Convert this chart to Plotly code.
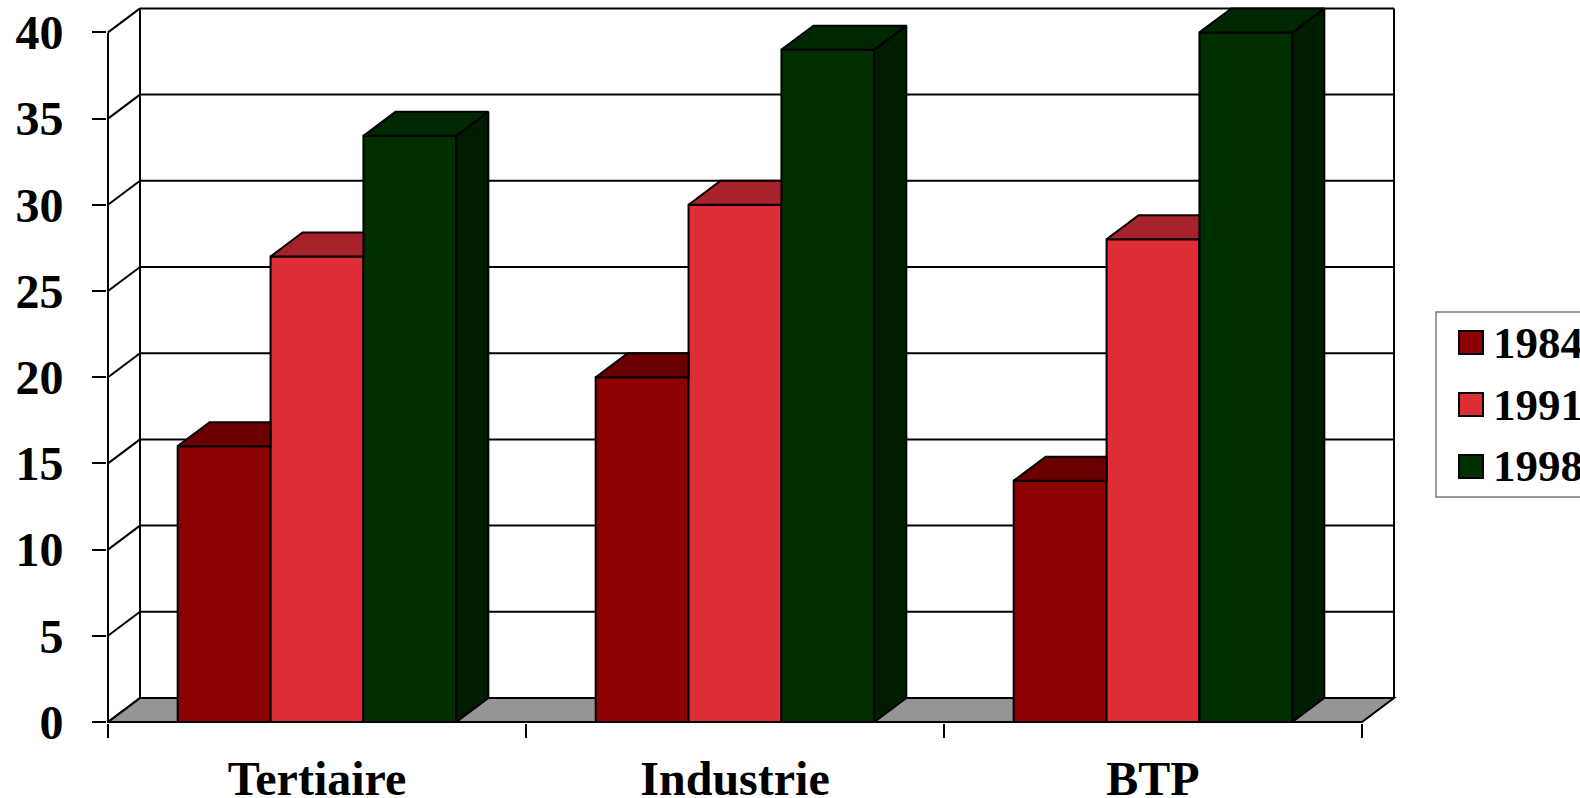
import plotly.graph_objects as go

# ---------------- data ----------------
CATEGORIES = ["Tertiaire", "Industrie", "BTP"]
SERIES = ["1984", "1991", "1998"]
V1984 = [16, 20, 14]
V1991 = [27, 30, 28]
V1998 = [34, 39, 40]
VALUES = [V1984, V1991, V1998]
Y_TICKS = [0, 5, 10, 15, 20, 25, 30, 35, 40]

# ---------------- styles ----------------
FRONT = ["#8f0000", "#de2d35", "#003000"]
TOP = ["#6b0000", "#a8222a", "#002800"]
SIDE = ["#560000", "#8a1a20", "#001d00"]
FLOOR = "#959595"
FONT = "Liberation Serif"

W, H = 1580, 798
ML, MR, MT, MB = 107, 180, 0, 75
PW, PH = W - ML - MR, H - MT - MB
PX_CAT = 418.0      # pixels per category
PX_UNIT = 17.24     # pixels per value unit
DX = 32 / PX_CAT    # depth offset, x units
DY = 24 / PX_UNIT   # depth offset, y units
BARGAP = 1 / 3
NS = len(SERIES)
BW = (1 - BARGAP) / NS

x_lo = -0.5 - 1 / PX_CAT
x_hi = x_lo + PW / PX_CAT
y_lo = -1 / PX_UNIT
y_hi = y_lo + PH / PX_UNIT
ymax = max(Y_TICKS)
xl, xr = -0.5, len(CATEGORIES) - 0.5

fig = go.Figure()

# fronts: real bars
for s in range(NS):
    fig.add_trace(go.Bar(
        x=list(range(len(CATEGORIES))), y=VALUES[s], name=SERIES[s],
        marker=dict(color=FRONT[s], line=dict(color="black", width=2)),
        showlegend=False, hoverinfo="skip"))


def poly(xs, ys, color):
    fig.add_trace(go.Scatter(
        x=xs + [xs[0]], y=ys + [ys[0]], mode="lines", fill="toself",
        fillcolor=color, line=dict(color="black", width=2),
        showlegend=False, hoverinfo="skip"))


# tops and sides (3D faces), computed from values
for c in range(len(CATEGORIES)):
    for s in range(NS):
        h = VALUES[s][c]
        x0 = c - (1 - BARGAP) / 2 + s * BW
        x1 = x0 + BW
        hn = VALUES[s + 1][c] if s + 1 < NS else None
        if hn is None or hn < h:
            if hn is None:
                poly([x1, x1 + DX, x1 + DX, x1], [0, DY, h + DY, h], SIDE[s])
            else:
                poly([x1, x1, x1 + DX, x1 + DX], [hn, h, h + DY, hn + DY], SIDE[s])
            poly([x0, x1, x1 + DX, x0 + DX], [h, h, h + DY, h + DY], TOP[s])
        else:
            poly([x0, x1, x1, x0 + DX], [h, h, h + DY, h + DY], TOP[s])

# walls, floor, gridlines (below traces)
shapes = []
LN = dict(color="black", width=2)
shapes.append(dict(type="path", layer="below", xref="x", yref="y",
                   path=f"M{xl},0 L{xr},0 L{xr + DX},{DY} L{xl + DX},{DY} Z",
                   fillcolor=FLOOR, line=LN))
for v in Y_TICKS:
    shapes.append(dict(type="line", layer="below", xref="x", yref="y",
                       x0=xl, y0=v, x1=xl + DX, y1=v + DY, line=LN))
    if v > 0:
        shapes.append(dict(type="line", layer="below", xref="x", yref="y",
                           x0=xl + DX, y0=v + DY, x1=xr + DX, y1=v + DY, line=LN))
shapes.append(dict(type="line", layer="below", xref="x", yref="y",
                   x0=xl, y0=0, x1=xl, y1=ymax, line=LN))
shapes.append(dict(type="line", layer="below", xref="x", yref="y",
                   x0=xl + DX, y0=DY, x1=xl + DX, y1=ymax + DY, line=LN))
shapes.append(dict(type="line", layer="below", xref="x", yref="y",
                   x0=xr + DX, y0=DY, x1=xr + DX, y1=ymax + DY, line=LN))


# legend (manual)
def px(xp):
    return (xp - ML) / PW


def py(yp):
    return (MT + PH - yp) / PH


shapes.append(dict(type="rect", xref="paper", yref="paper",
                   x0=px(1436), x1=px(1640), y0=py(497), y1=py(312),
                   line=dict(color="#7a7a7a", width=1.5), fillcolor="rgba(0,0,0,0)"))
annotations = []
for s in range(NS):
    yc = 342.5 + s * 62
    shapes.append(dict(type="rect", xref="paper", yref="paper",
                       x0=px(1459), x1=px(1483), y0=py(yc + 11.5), y1=py(yc - 11.5),
                       fillcolor=FRONT[s], line=dict(color="black", width=2)))
    annotations.append(dict(xref="paper", yref="paper", x=px(1491), y=py(yc),
                            xanchor="left", yanchor="middle", showarrow=False,
                            text=SERIES[s],
                            font=dict(family=FONT, size=45, color="black", weight="bold")))

fig.update_layout(
    width=W, height=H, margin=dict(l=ML, r=MR, t=MT, b=MB, autoexpand=False),
    plot_bgcolor="white", paper_bgcolor="white",
    barmode="group", bargap=BARGAP, bargroupgap=0, showlegend=False,
    shapes=shapes, annotations=annotations,
    xaxis=dict(range=[x_lo, x_hi], tickmode="array", automargin=False,
               tickvals=list(range(len(CATEGORIES))), ticktext=CATEGORIES,
               ticks="", showgrid=False, zeroline=False, showline=False,
               tickfont=dict(family=FONT, size=48, color="black", weight="bold"),
               ticklabelstandoff=23,
               minor=dict(tickmode="array",
                          tickvals=[i - 0.5 for i in range(len(CATEGORIES) + 1)],
                          ticks="outside", ticklen=14, tickwidth=1.5,
                          tickcolor="black", showgrid=False)),
    yaxis=dict(range=[y_lo, y_hi], tickmode="array", tickvals=Y_TICKS,
               automargin=False,
               ticks="outside", ticklen=14, tickwidth=2, tickcolor="black",
               showgrid=False, zeroline=False, showline=False,
               ticklabelstandoff=19,
               tickfont=dict(family=FONT, size=48, color="black", weight="bold")),
)

fig.write_html("out.html")
